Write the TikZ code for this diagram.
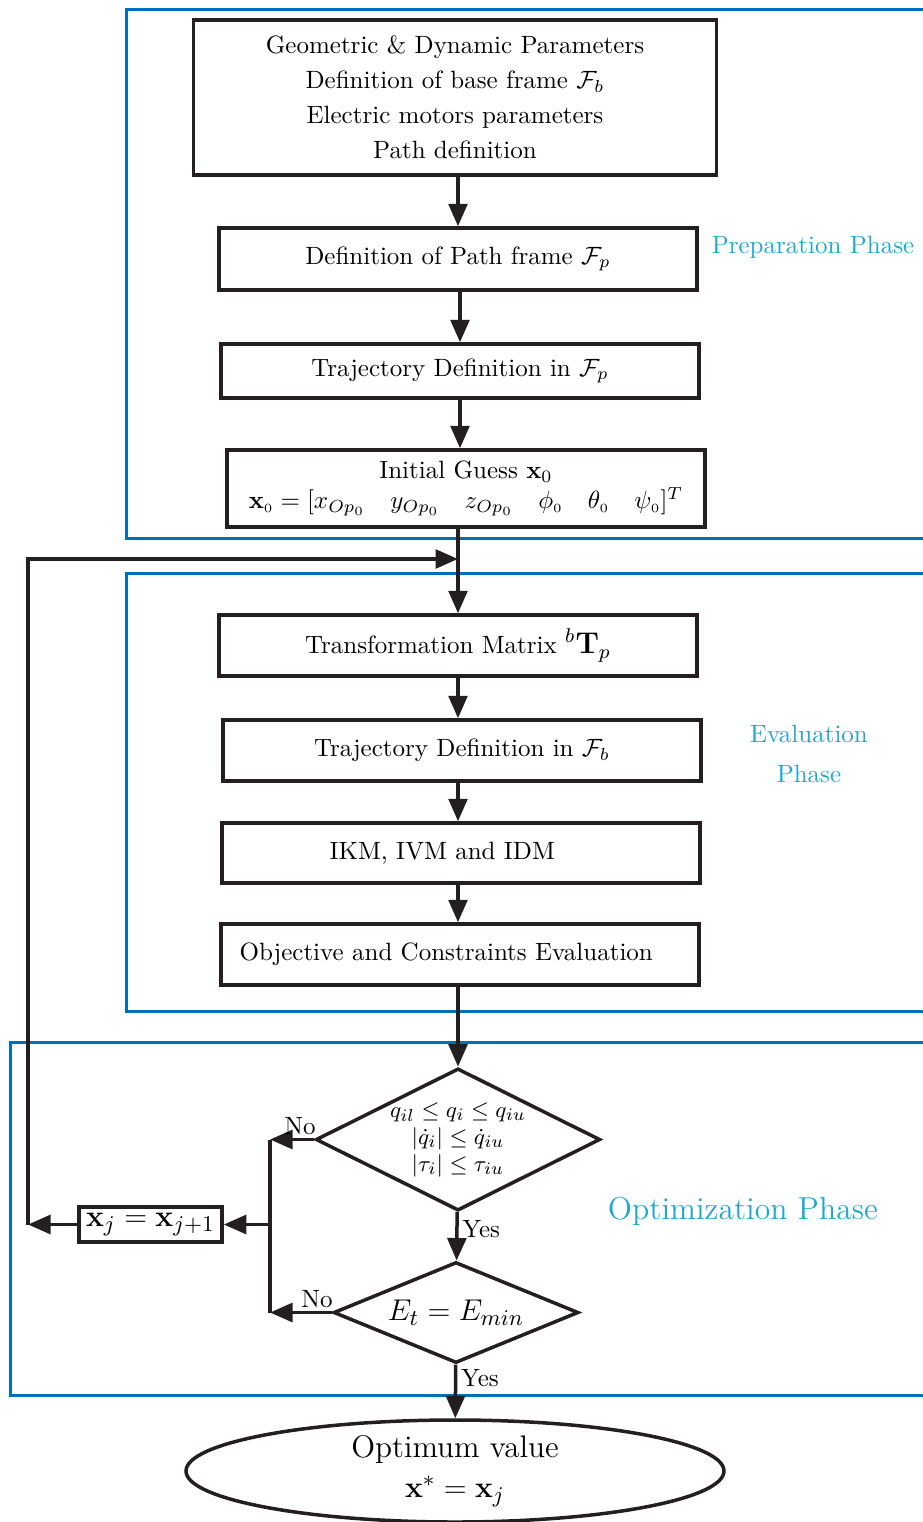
\documentclass[tikz,border=0pt]{standalone}
\usepackage{amsmath}
\usepackage{tikz}
\usetikzlibrary{shapes.geometric, arrows.meta, positioning}
\definecolor{framecolor}{RGB}{0,112,185}
\definecolor{phasecolor}{RGB}{30,168,208}
\definecolor{inkcolor}{RGB}{35,31,32}

\begin{document}
\begin{tikzpicture}[
    x=0.4pt, y=-0.4pt,
    block/.style={draw=inkcolor, line width=1.4pt, minimum width=191.2pt, minimum height=24.4pt, align=center, inner sep=2pt},
    decision/.style={diamond, draw=inkcolor, line width=1.4pt, align=center, inner sep=0pt, aspect=2},
    flow/.style={-{Triangle[length=9pt, width=7.5pt]}, line width=1.4pt, draw=inkcolor},
    link/.style={line width=1.4pt, draw=inkcolor},
    phasebox/.style={line width=1.2pt, draw=framecolor},
    phaselabel/.style={text=phasecolor, align=center}
]
    \useasboundingbox (0,0) rectangle (922,1522);

    % Phases
    \draw[phasebox] (126,9) rectangle (940,538);
    \draw[phasebox] (126,573) rectangle (940,1011);
    \draw[phasebox] (10,1042) rectangle (940,1395);
    \node[phaselabel] (prep) at (813,247) {Preparation Phase};
    \node[phaselabel] (eval) at (809,754) {Evaluation\\[4pt] Phase};
    \node[phaselabel, font=\fontsize{12.7}{15}\selectfont] (optim) at (743,1211) {Optimization Phase};

    % Preparation blocks
    \node[block, minimum width=209.2pt, minimum height=62pt] (params) at (455,97.5)
        {Geometric \& Dynamic Parameters\\[2pt] Definition of base frame $\mathcal{F}_b$\\[2pt] Electric motors parameters\\[2pt] Path definition};
    \node[block, minimum height=24.8pt] (pathframe) at (458,259) {Definition of Path frame $\mathcal{F}_p$};
    \node[block, minimum height=21.6pt] (trajp) at (460,371) {Trajectory Definition in $\mathcal{F}_p$};
    \node[block, minimum height=30.8pt] (guess) at (466,488.5)
        {Initial Guess $\mathbf{x}_0$\\ $\mathbf{x}_{\scriptscriptstyle 0} = [x_{Op_0}\quad y_{Op_0}\quad z_{Op_0}\quad \phi_{\scriptscriptstyle 0}\quad \theta_{\scriptscriptstyle 0}\quad \psi_{\scriptscriptstyle 0}]^T$};

    % Evaluation blocks
    \node[block] (transf) at (458,645.5) {Transformation Matrix {\large${}^{b}\mathbf{T}_{p}$}};
    \node[block] (trajb) at (462,750.5) {Trajectory Definition in $\mathcal{F}_b$};
    \node[block, minimum height=24pt] (ikm) at (461,853) {IKM, IVM and IDM\hspace{15pt}};
    \node[block] (objective) at (460,954.5) {Objective and Constraints Evaluation\hspace{11pt}};

    % Optimization
    \node[decision, minimum width=110.8pt, minimum height=54.8pt, font=\fontsize{9.5}{10.8}\selectfont] (limits) at (458,1139.5)
        {$q_{il} \leq q_i \leq q_{iu}$\\ $|\dot{q}_i| \leq \dot{q}_{iu}$\\ $|\tau_i| \leq \tau_{iu}$};
    \node[decision, minimum width=98pt, minimum height=40.4pt, font=\fontsize{12.75}{15}\selectfont] (energy) at (456,1312.5) {$E_t = E_{min}$};
    \node[draw=inkcolor, line width=1.4pt, inner sep=1.5pt, minimum width=57.2pt, minimum height=14pt, font=\fontsize{13.1}{15}\selectfont] (update) at (150.5,1224.5)
        {$\mathbf{x}_j = \mathbf{x}_{j+1}$};
    \node[ellipse, draw=inkcolor, line width=1.4pt, inner sep=0pt, minimum width=215.2pt, minimum height=40.8pt, align=center, font=\fontsize{12.5}{16}\selectfont] (optimum) at (455,1471)
        {Optimum value\\ $\mathbf{x}^{*} = \mathbf{x}_{j}$};

    \coordinate (no1) at (270,1139.5);
    \coordinate (no2) at (270,1312.5);
    \coordinate (nomid) at (270,1224.5);
    \coordinate (loopcorner) at (28,1224.5);
    \coordinate (looptop) at (28,559);
    \coordinate (merge) at (458,559);

    % Connections
    \draw[flow] (pathframe.north |- params.south) -- (pathframe);
    \draw[flow] (trajp.north |- pathframe.south) -- (trajp);
    \draw[flow] (trajp) -- (trajp |- guess.north);
    \draw[flow] (transf.north |- guess.south) -- (transf);
    \draw[flow] (transf) -- (transf |- trajb.north);
    \draw[flow] (transf |- trajb.south) -- (transf |- ikm.north);
    \draw[flow] (transf |- ikm.south) -- (transf |- objective.north);
    \draw[flow] (limits |- objective.south) -- (limits);
    \draw[flow] (limits) -- node[right, pos=0.35, inner sep=1.5pt] {Yes} (energy);
    \draw[flow] (energy) -- node[right, pos=0.25, inner sep=1.5pt] {Yes} (optimum);
    \draw[flow] (limits.west) -- node[above, pos=0.32, inner sep=1pt] {No} (no1);
    \draw[flow] (energy.west) -- node[above, pos=0.24, inner sep=1pt] {No} (no2);
    \draw[link] (no1) -- (no2);
    \draw[flow] (nomid) -- (update);
    \draw[flow] (update) -- (loopcorner);
    \draw[flow] (loopcorner) -- (looptop) -- (merge);
\end{tikzpicture}
\end{document}
